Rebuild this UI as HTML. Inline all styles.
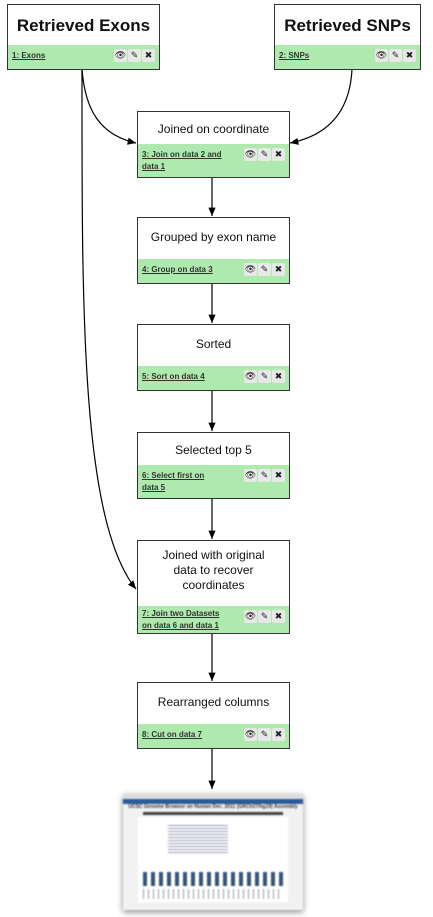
<!DOCTYPE html>
<html><head><style>
body{margin:0;width:433px;height:917px;background:#fff;position:relative;font-family:"Liberation Sans",sans-serif;overflow:hidden}
.b{position:absolute;border:1px solid #333;background:#fff;box-sizing:border-box}
.t{text-align:center;color:#111;font-size:12px;line-height:15px}
.g{position:absolute;left:0;right:0;bottom:0;background:#aeeaae}
.l{position:absolute;left:4px;top:5px;font-size:8px;font-weight:bold;text-decoration:underline;color:#333;line-height:12px;width:88px}
.ic{position:absolute;right:4px;top:4px;display:flex;gap:1px}
.ic span{width:13px;height:13px;background:#e8e8e8;border-radius:2px;font-size:9px;line-height:13px;text-align:center;color:#222}
svg{position:absolute;left:0;top:0}
</style></head><body>
<svg width="433" height="917">
<defs><marker id="a" markerWidth="8" markerHeight="8" refX="7" refY="4" orient="auto"><path d="M0,1 L7,4 L0,7z" fill="#000"/></marker></defs>
<g stroke="#000" stroke-width="1.2" fill="none">
<path d="M82,69 C85,110 100,135 136,143" marker-end="url(#a)"/>
<path d="M352,69 C350,110 330,135 290,143" marker-end="url(#a)"/>
<path d="M82,69 C82,300 80,520 136,589" marker-end="url(#a)"/>
<path d="M212,177 V216" marker-end="url(#a)"/>
<path d="M212,283 V323" marker-end="url(#a)"/>
<path d="M212,390 V431" marker-end="url(#a)"/>
<path d="M212,498 V539" marker-end="url(#a)"/>
<path d="M212,633 V681" marker-end="url(#a)"/>
<path d="M212,748 V789" marker-end="url(#a)"/>
</g></svg>

<div class="b" style="left:7px;top:4px;width:153px;height:66px"><div class="t" style="font-size:17px;font-weight:bold;margin-top:11px;line-height:20px">Retrieved Exons</div><div class="g" style="height:24px"><div class="l">1: Exons</div><div class="ic"><span>👁</span><span>✎</span><span>✖</span></div></div></div>
<div class="b" style="left:274px;top:4px;width:147px;height:66px"><div class="t" style="font-size:17px;font-weight:bold;margin-top:11px;line-height:20px">Retrieved SNPs</div><div class="g" style="height:24px"><div class="l">2: SNPs</div><div class="ic"><span>👁</span><span>✎</span><span>✖</span></div></div></div>

<div class="b" style="left:137px;top:111px;width:153px;height:67px"><div class="t" style="margin-top:10px">Joined on coordinate</div><div class="g" style="height:33px"><div class="l">3: Join on data 2 and data 1</div><div class="ic"><span>👁</span><span>✎</span><span>✖</span></div></div></div>
<div class="b" style="left:137px;top:217px;width:153px;height:67px"><div class="t" style="margin-top:12px">Grouped by exon name</div><div class="g" style="height:24px"><div class="l">4: Group on data 3</div><div class="ic"><span>👁</span><span>✎</span><span>✖</span></div></div></div>
<div class="b" style="left:137px;top:324px;width:153px;height:67px"><div class="t" style="margin-top:12px">Sorted</div><div class="g" style="height:24px"><div class="l">5: Sort on data 4</div><div class="ic"><span>👁</span><span>✎</span><span>✖</span></div></div></div>
<div class="b" style="left:137px;top:432px;width:153px;height:67px"><div class="t" style="margin-top:10px">Selected top 5</div><div class="g" style="height:33px"><div class="l" style="width:80px">6: Select first on data 5</div><div class="ic"><span>👁</span><span>✎</span><span>✖</span></div></div></div>
<div class="b" style="left:137px;top:540px;width:153px;height:94px"><div class="t" style="margin-top:7px">Joined with original<br>data to recover<br>coordinates</div><div class="g" style="height:27px"><div class="l" style="top:2px">7: Join two Datasets on data 6 and data 1</div><div class="ic"><span>👁</span><span>✎</span><span>✖</span></div></div></div>
<div class="b" style="left:137px;top:682px;width:153px;height:67px"><div class="t" style="margin-top:12px">Rearranged columns</div><div class="g" style="height:24px"><div class="l">8: Cut on data 7</div><div class="ic"><span>👁</span><span>✎</span><span>✖</span></div></div></div>

<div style="position:absolute;left:123px;top:794px;width:180px;height:116px;background:#f2f2f2;box-shadow:0 2px 6px #888;filter:blur(0.7px)">
<div style="height:5px;background:#ddd"></div>
<div style="height:5px;background:#2a5a9a"></div>
<div style="font-size:5px;text-align:center;font-weight:bold;color:#333">UCSC Genome Browser on Human Dec. 2011 (GRCh37/hg19) Assembly</div>
<div style="margin:2px 20px;height:3px;background:#444"></div>
<div style="margin:2px 15px;height:85px;background:#fff;position:relative">
<div style="position:absolute;left:30px;top:6px;width:60px;height:30px;background:repeating-linear-gradient(#fff 0 2px,#99b 2px 3px)"></div>
<div style="position:absolute;left:5px;top:55px;width:140px;height:14px;background:repeating-linear-gradient(90deg,#357 0 4px,#fff 4px 8px)"></div>
<div style="position:absolute;left:5px;top:72px;width:140px;height:10px;background:repeating-linear-gradient(90deg,#999 0 1px,#fff 1px 5px)"></div>
</div></div>
</body></html>
